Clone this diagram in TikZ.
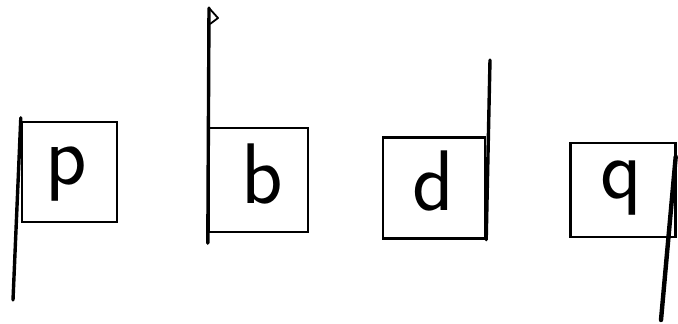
\documentclass[tikz,border=0pt]{standalone}
\begin{document}
\begin{tikzpicture}[x=1pt,y=-1pt,
  flagbox/.style={draw,line width=2.4pt,minimum width=#1,inner sep=0pt,rectangle},
  pole/.style={line width=3.4pt,line cap=round},
  letter/.style={font=\fontsize{86}{86}\selectfont\sffamily,inner sep=0pt}]
\useasboundingbox (0,0) rectangle (678,324);
% flag p
\node[flagbox=95pt,minimum height=100pt] (boxp) at (69.5,172) {};
\node[letter] (p) at (66,174) {p};
\coordinate (pbot) at (13,300);
\draw[pole] (boxp.north west) ++(0,-3) -- (pbot);
% flag b
\node[flagbox=99pt,minimum height=104pt] (boxb) at (258.5,180) {};
\node[letter] (b) at (262,174) {b};
\coordinate (btop) at (209,8);
\draw[pole] (btop) -- ([yshift=-10pt]boxb.south west);
\draw[line width=1.8pt,line join=round] (btop) -- (218,18) -- (210,24);
% flag d
\node[flagbox=102pt,minimum height=101pt] (boxd) at (434,188) {};
\node[letter] (d) at (433,181) {d};
\coordinate (dtop) at (490,60);
\draw[pole] (dtop) -- (boxd.south east);
% flag q
\node[flagbox=105pt,minimum height=94pt] (boxq) at (623,190) {};
\node[letter] (q) at (621,188) {q};
\coordinate (qbot) at (661,320);
\draw[pole,line width=4.4pt] (boxq.north east) ++(-1,15) -- (qbot);
\end{tikzpicture}
\end{document}
